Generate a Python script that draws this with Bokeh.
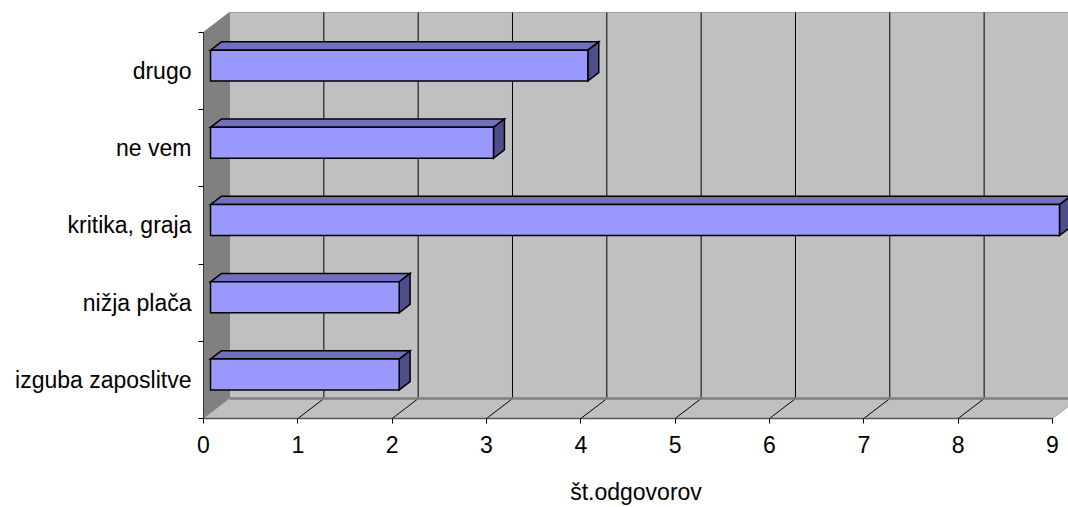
from bokeh.plotting import figure
from bokeh.models import FixedTicker, Range1d, LinearAxis
from bokeh.embed import file_html
from bokeh.resources import INLINE

# survey answers and their counts (bottom to top)
categories = ["izguba zaposlitve", "nižja plača", "kritika, graja", "ne vem", "drugo"]
counts = [2, 2, 9, 3, 4]
x_ticks = [0, 1, 2, 3, 4, 5, 6, 7, 8, 9]
x_title = "št.odgovorov"

# pseudo-3D geometry, in data units
PX_PER_X = 94.33          # pixels per answer
PX_PER_Y = 77.6           # pixels per category slot
DX = 26 / PX_PER_X        # full depth shift along x
DY = 20 / PX_PER_Y        # full depth shift along y
BAR_D0, BAR_D1 = 0.27, 0.69   # bar front/back depth
BAR_HALF = 0.2
X_MAX = max(x_ticks)
N = len(categories)

FONT = "Liberation Sans"
FS = "23px"


def proj(x, y, d):
    return x + d * DX, y + d * DY


def poly(points):
    pts = [proj(*pt) for pt in points]
    return [q[0] for q in pts], [q[1] for q in pts]


p = figure(width=1068, height=507,
           x_range=Range1d(0, 865 / PX_PER_X),
           y_range=Range1d(0, 420 / PX_PER_Y),
           output_backend="svg", toolbar_location=None,
           min_border_left=203, min_border_right=0,
           min_border_top=0, min_border_bottom=87,
           x_axis_location=None, y_axis_location=None)
p.outline_line_color = None
p.grid.visible = False
p.background_fill_color = "white"

# back wall
bx, by = poly([(0, 0, 1), (X_MAX, 0, 1), (X_MAX, N, 1), (0, N, 1)])
p.patch(bx, by, fill_color="#C0C0C0", line_color="#A0A0A0", line_width=1)

# left wall
lx, ly = poly([(0, 0, 0), (0, N, 0), (0, N, 1), (0, 0, 1)])
p.patch(lx, ly, fill_color="#808080", line_color="#808080", line_width=1)

# floor
fx, fy = poly([(0, 0, 0), (X_MAX, 0, 0), (X_MAX, 0, 1), (0, 0, 1)])
p.patch(fx, fy, fill_color="#C0C0C0", line_color="#A0A0A0", line_width=1)

# gridlines on the back wall and the floor
wall_x, wall_y, floor_x, floor_y = [], [], [], []
for t in x_ticks[1:-1]:
    xs, ys = poly([(t, 0, 1), (t, N, 1)])
    wall_x.append(xs); wall_y.append(ys)
    xs, ys = poly([(t, 0, 0), (t, 0, 1)])
    floor_x.append(xs); floor_y.append(ys)
p.multi_line(wall_x, wall_y, line_color="black", line_width=1)
p.multi_line(floor_x, floor_y, line_color="black", line_width=1)

# back edge of the floor
ex, ey = poly([(0, 0, 1), (X_MAX, 0, 1)])
p.line(ex, ey, line_color="#808080", line_width=2.5)

# bars: front, top and side faces
front_x, front_y, top_x, top_y, side_x, side_y = [], [], [], [], [], []
for i, v in enumerate(counts):
    c = i + 0.5
    lo, hi = c - BAR_HALF, c + BAR_HALF
    xs, ys = poly([(0, lo, BAR_D0), (v, lo, BAR_D0), (v, hi, BAR_D0), (0, hi, BAR_D0)])
    front_x.append(xs); front_y.append(ys)
    xs, ys = poly([(0, hi, BAR_D0), (v, hi, BAR_D0), (v, hi, BAR_D1), (0, hi, BAR_D1)])
    top_x.append(xs); top_y.append(ys)
    xs, ys = poly([(v, lo, BAR_D0), (v, hi, BAR_D0), (v, hi, BAR_D1), (v, lo, BAR_D1)])
    side_x.append(xs); side_y.append(ys)

p.patches(top_x, top_y, fill_color="#7070BE", line_color="black", line_width=1.5, line_join="miter")
p.patches(side_x, side_y, fill_color="#4E4E88", line_color="black", line_width=1.5, line_join="miter")
p.patches(front_x, front_y, fill_color="#9999FF", line_color="black", line_width=1.5, line_join="miter")

# value axis
xaxis = LinearAxis(ticker=FixedTicker(ticks=x_ticks), bounds=(0, X_MAX),
                   axis_label=x_title)
xaxis.axis_line_color = "#555555"
xaxis.axis_line_width = 1.5
xaxis.major_tick_line_color = "black"
xaxis.major_tick_out = 5
xaxis.major_tick_in = 0
xaxis.minor_tick_line_color = None
xaxis.major_label_standoff = 12
xaxis.major_label_text_font = FONT
xaxis.major_label_text_font_size = FS
xaxis.major_label_text_color = "black"
xaxis.axis_label_text_font = FONT
xaxis.axis_label_text_font_size = FS
xaxis.axis_label_text_font_style = "normal"
xaxis.axis_label_text_color = "black"
xaxis.axis_label_standoff = 23
p.add_layout(xaxis, "below")

# category axis: labels at slot centres, tick marks at slot boundaries
centres = [i + 0.5 for i in range(N)]
yaxis = LinearAxis(ticker=FixedTicker(ticks=centres, minor_ticks=list(range(N + 1))),
                   bounds=(0, N))
yaxis.major_label_overrides = {c: lab for c, lab in zip(centres, categories)}
yaxis.axis_line_color = "#333333"
yaxis.axis_line_width = 1
yaxis.major_tick_line_color = None
yaxis.major_tick_out = 0
yaxis.major_tick_in = 0
yaxis.minor_tick_line_color = "black"
yaxis.minor_tick_out = 5
yaxis.minor_tick_in = 0
yaxis.major_label_standoff = 7
yaxis.major_label_text_font = FONT
yaxis.major_label_text_font_size = FS
yaxis.major_label_text_color = "black"
p.add_layout(yaxis, "left")

open("out.html", "w").write(file_html(p, INLINE))
